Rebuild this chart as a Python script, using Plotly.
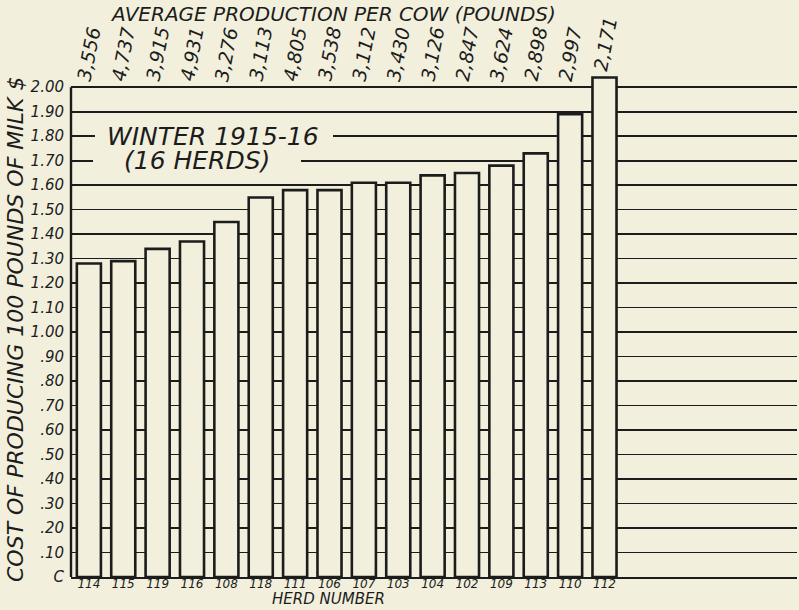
import plotly.graph_objects as go

herds = ["114", "115", "119", "116", "108", "118", "111", "106",
         "107", "103", "104", "102", "109", "113", "110", "112"]
cost = [1.28, 1.29, 1.34, 1.37, 1.45, 1.55, 1.58, 1.58,
        1.61, 1.61, 1.64, 1.65, 1.68, 1.73, 1.89, 2.04]
production = ["3,556", "4,737", "3,915", "4,931", "3,276", "3,113", "4,805", "3,538",
              "3,112", "3,430", "3,126", "2,847", "3,624", "2,898", "2,997", "2,171"]
y_ticks = [i / 10 for i in range(0, 21)]
y_ticktext = ["C", ".10", ".20", ".30", ".40", ".50", ".60", ".70", ".80", ".90",
              "1.00", "1.10", "1.20", "1.30", "1.40", "1.50", "1.60", "1.70", "1.80", "1.90", "2.00"]

BG = "#f2f0dc"
INK = "#1c1c1c"
FONT = "DejaVu Sans"

W, H = 799, 610
ML, MR, MT, MB = 71, 2, 75, 33
PW, PH = W - ML - MR, H - MT - MB
Y_MAX = 2.05
X_MIN, X_MAX = -0.52, 20.6


def py(pix_y):
    """figure pixel y -> paper y"""
    return (H - MB - pix_y) / PH


def px(pix_x):
    return (pix_x - ML) / PW


xs = list(range(len(herds)))

fig = go.Figure()
fig.add_trace(go.Bar(
    x=xs, y=cost, width=0.70,
    marker=dict(color=BG, line=dict(color=INK, width=2.6)),
    hoverinfo="skip",
))

ann = []
for i, (p, c) in enumerate(zip(production, cost)):
    ann.append(dict(x=i, y=max(c, 2.0), xref="x", yref="y", text=p,
                    textangle=-79, showarrow=False, xanchor="center", yanchor="bottom",
                    yshift=2, font=dict(family=FONT, size=19, color=INK, style="italic")))

ann.append(dict(x=px(333), y=py(14), xref="paper", yref="paper",
                text="AVERAGE PRODUCTION PER COW (POUNDS)", showarrow=False,
                xanchor="center", yanchor="middle",
                font=dict(family=FONT, size=20, color=INK, style="italic")))

ann.append(dict(x=px(15), y=py(330), xref="paper", yref="paper",
                text="COST OF PRODUCING 100 POUNDS OF MILK $", textangle=-90, showarrow=False,
                xanchor="center", yanchor="middle",
                font=dict(family=FONT, size=22, color=INK, style="italic")))

ann.append(dict(x=px(328), y=py(610), xref="paper", yref="paper",
                text="HERD NUMBER", showarrow=False, xanchor="center", yanchor="bottom",
                font=dict(family=FONT, size=15, color=INK, style="italic")))

ann.append(dict(x=px(213), y=1.80, xref="paper", yref="y", text="WINTER 1915-16",
                showarrow=False, xanchor="center", yanchor="middle",
                font=dict(family=FONT, size=25, color=INK, style="italic")))
ann.append(dict(x=px(197), y=1.70, xref="paper", yref="y", text="(16 HERDS)",
                showarrow=False, xanchor="center", yanchor="middle",
                font=dict(family=FONT, size=25, color=INK, style="italic")))

shapes = [
    # gaps in the gridlines behind the panel titles
    dict(type="rect", xref="paper", yref="y", x0=px(95), x1=px(333), y0=1.78, y1=1.82,
         fillcolor=BG, line=dict(width=0), layer="above"),
    dict(type="rect", xref="paper", yref="y", x0=px(93), x1=px(301), y0=1.68, y1=1.72,
         fillcolor=BG, line=dict(width=0), layer="above"),
    # left axis line, from 0 to 2.00 only
    dict(type="line", xref="paper", yref="y", x0=0, x1=0, y0=0, y1=2.0,
         line=dict(color=INK, width=2.4), layer="above"),
]

fig.update_layout(
    width=W, height=H,
    margin=dict(l=ML, r=MR, t=MT, b=MB, autoexpand=False),
    paper_bgcolor=BG, plot_bgcolor=BG,
    showlegend=False, annotations=ann, shapes=shapes,
)
fig.update_xaxes(
    range=[X_MIN, X_MAX], tickmode="array", tickvals=xs, ticktext=herds,
    showgrid=False, zeroline=False, showline=True, linecolor=INK, linewidth=2.2,
    ticks="", ticklabelstandoff=-6, automargin=False,
    tickfont=dict(family=FONT, size=12, color=INK, style="italic"),
)
fig.update_yaxes(
    range=[0, Y_MAX], tickmode="array", tickvals=y_ticks, ticktext=y_ticktext,
    showgrid=True, gridcolor=INK, gridwidth=1.6, zeroline=False,
    showline=False, ticks="", ticklabelstandoff=6, automargin=False,
    tickfont=dict(family=FONT, size=15, color=INK, style="italic"),
)

fig.write_html(
    "out.html",
    config={"displayModeBar": False, "staticPlot": True},
    post_script="document.body.style.margin='0';document.body.style.padding='0';"
                "document.documentElement.style.overflow='hidden';",
)
